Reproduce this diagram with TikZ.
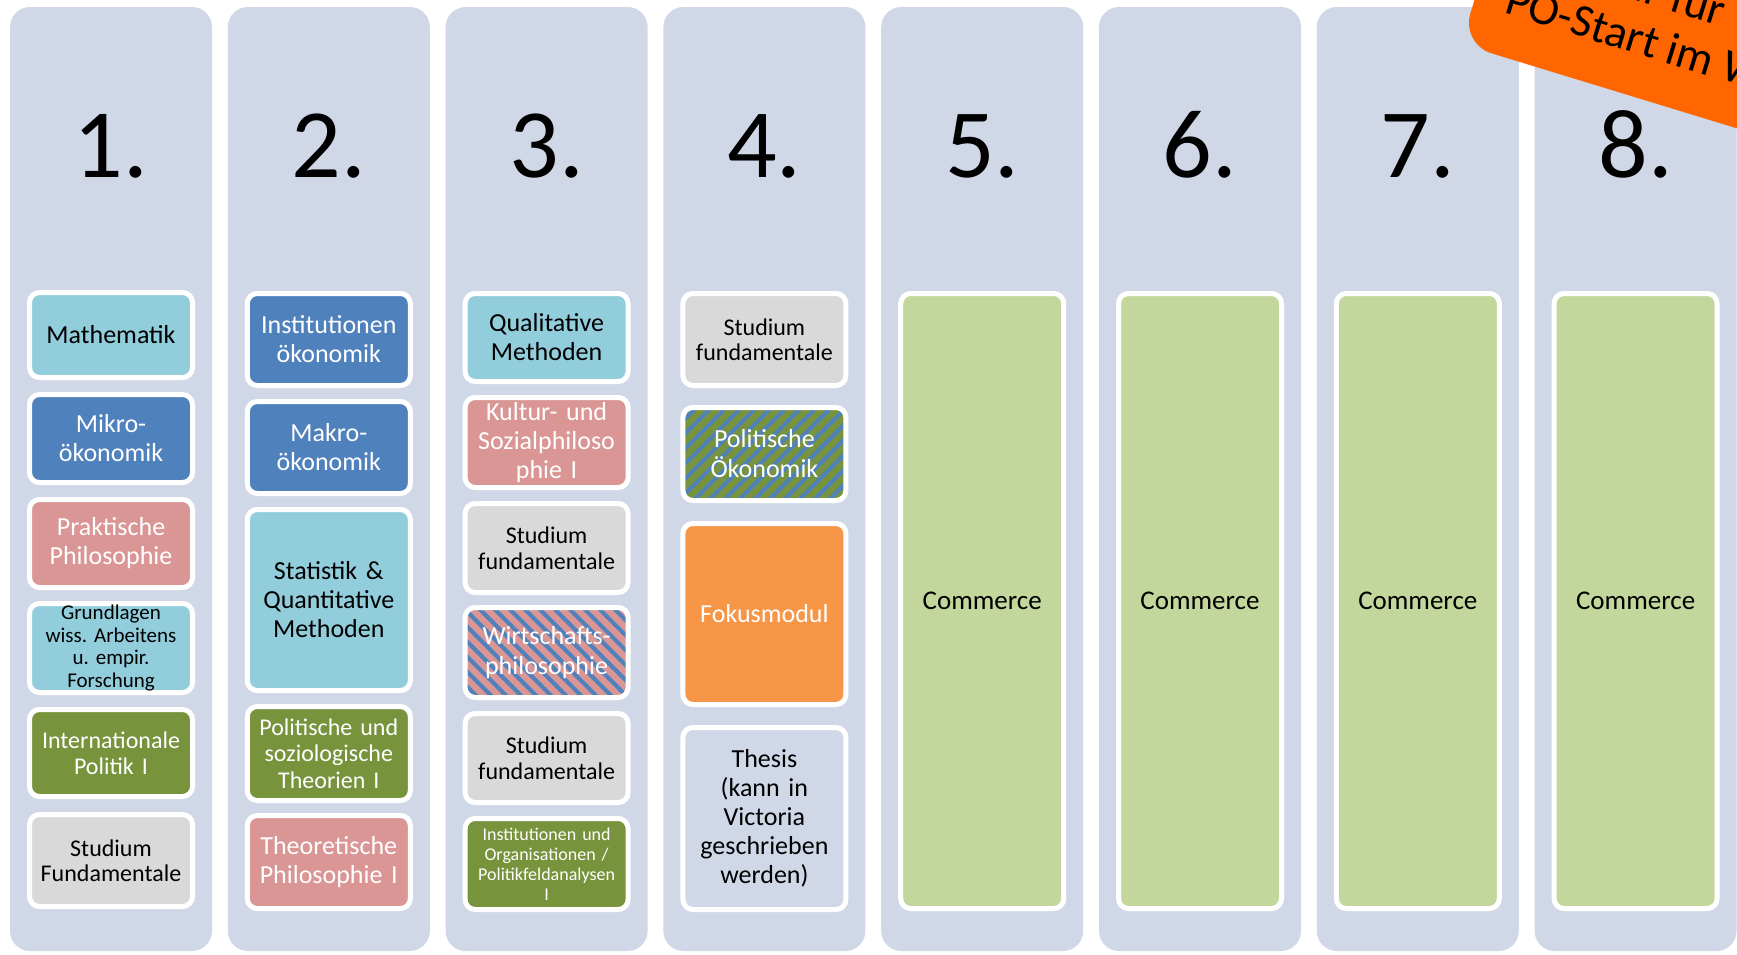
\documentclass[tikz,border=0pt]{standalone}
\usepackage{fontspec}
\setmainfont{Carlito}
\frenchspacing
\usetikzlibrary{positioning,patterns.meta}

\definecolor{spalte}{HTML}{D0D8E8}
\definecolor{hellblauc}{HTML}{92CDDC}
\definecolor{blauc}{HTML}{4F81BD}
\definecolor{rosac}{HTML}{D99694}
\definecolor{gruenc}{HTML}{77933C}
\definecolor{grauc}{HTML}{D9D9D9}
\definecolor{orangec}{HTML}{F79646}
\definecolor{commercec}{HTML}{C3D69B}
\definecolor{bannerc}{HTML}{FF6600}

\tikzset{
  semester/.style={fill=spalte, rounded corners=20pt, inner sep=0pt, minimum width=202pt, minimum height=944pt},
  nummer/.style={font=\fontsize{98}{98}\selectfont, anchor=base},
  modul/.style={draw=white, line width=5pt, rounded corners=10pt, minimum width=163pt, text width=155pt, align=center, inner xsep=2pt, inner ysep=0pt, font=\fontsize{26}{29}\selectfont},
  hellblau/.style={modul, fill=hellblauc, text=black},
  blau/.style={modul, fill=blauc, text=white},
  rosa/.style={modul, fill=rosac, text=white},
  gruen/.style={modul, fill=gruenc, text=white},
  grau/.style={modul, fill=grauc, text=black, font=\fontsize{24}{25.5}\selectfont},
  fokus/.style={modul, fill=orangec, text=white},
  commerce/.style={modul, fill=commercec, text=black, font=\fontsize{27}{30}\selectfont},
  streifen/.style={modul, text=white, preaction={fill=#1}, pattern color=blauc},
}

\begin{document}
\begin{tikzpicture}[x=1pt, y=-1pt]
  \clip (0,0) rectangle (1737,954);
  \fill[white] (0,0) rectangle (1737,954);

  % Semester-Spalten
  \foreach \i in {1,...,8} {
    \node[semester] (col\i) at ({111+217.8*(\i-1)}, 479) {};
    \node[nummer] (num\i) at (col\i |- 0,177) {\i.};
  }

  % 1. Semester
  \node[hellblau, minimum height=85pt] (mathe) at (col1 |- 0,335) {Mathematik};
  \node[blau, minimum height=88pt] (mikro) at (col1 |- 0,438.5) {Mikro-\\ökonomik};
  \node[rosa, minimum height=88pt] (praktphil) at (col1 |- 0,543.5) {Praktische\\Philosophie};
  \node[hellblau, minimum height=89pt, font=\fontsize{21}{22.5}\selectfont] (grundl) at (col1 |- 0,648) {Grundlagen\\wiss. Arbeitens\\u. empir.\\Forschung};
  \node[gruen, minimum height=87pt, font=\fontsize{24}{25.5}\selectfont] (intpol) at (col1 |- 0,753) {Internationale\\Politik I};
  \node[grau, minimum height=92pt] (studf1) at (col1 |- 0,860.5) {Studium\\Fundamentale};

  % 2. Semester
  \node[blau, minimum height=92pt] (instoek) at (col2 |- 0,339.5) {Institutionen\\ökonomik};
  \node[blau, minimum height=92pt] (makro) at (col2 |- 0,447.5) {Makro-\\ökonomik};
  \node[hellblau, minimum height=181pt] (stat) at (col2 |- 0,600) {Statistik \&\\Quantitative\\Methoden};
  \node[gruen, minimum height=94pt, font=\fontsize{24}{26.5}\selectfont] (polsoz) at (col2 |- 0,753.5) {Politische und\\soziologische\\Theorien I};
  \node[rosa, minimum height=93pt] (theophil) at (col2 |- 0,862) {Theoretische\\Philosophie I};

  % 3. Semester
  \node[hellblau, minimum height=88pt] (quali) at (col3 |- 0,337.5) {Qualitative\\Methoden};
  \node[rosa, minimum height=90pt] (kultur) at (col3 |- 0,442.5) {Kultur- und\\Sozialphiloso\\phie I};
  \node[grau, minimum height=89pt] (studf2) at (col3 |- 0,548) {Studium\\fundamentale};
  \node[streifen=rosac, pattern={Lines[angle=-45, distance=10.6pt, line width=4pt]}, minimum height=90pt, font=\fontsize{26}{30}\selectfont] (wirtphil) at (col3 |- 0,652.5) {Wirtschafts-\\philosophie};
  \node[grau, minimum height=89pt] (studf3) at (col3 |- 0,758) {Studium\\fundamentale};
  \node[gruen, minimum height=91pt, font=\fontsize{18}{20}\selectfont] (instorg) at (col3 |- 0,864) {Institutionen und\\Organisationen /\\Politikfeldanalysen\\I};

  % 4. Semester
  \node[grau, minimum height=92pt] (studf4) at (col4 |- 0,339.5) {Studium\\fundamentale};
  \node[streifen=gruenc, pattern={Lines[angle=45, distance=10.6pt, line width=4pt]}, minimum height=93pt, font=\fontsize{26}{30}\selectfont] (poloek) at (col4 |- 0,454) {Politische\\Ökonomik};
  \node[fokus, minimum height=181pt] (fokusmod) at (col4 |- 0,614) {Fokusmodul};
  \node[modul, minimum height=182pt] (thesis) at (col4 |- 0,818.5) {Thesis\\(kann in\\Victoria\\geschrieben\\werden)};

  % 5.--8. Semester
  \foreach \i in {5,...,8}
    \node[commerce, minimum height=615pt] (comm\i) at (col\i |- 0,601) {Commerce};

  % Hinweis-Banner
  \begin{scope}[shift={(1461,44)}, rotate=-17]
    \fill[bannerc, rounded corners=32pt] (0,0) rectangle (640,-170);
    \node[transform shape, anchor=base, font=\fontsize{46}{52}\selectfont] (hinweis1) at (175,-93) {Nur für};
    \node[transform shape, anchor=base, font=\fontsize{46}{52}\selectfont] (hinweis2) at (175,-42) {PO-Start im WS};
  \end{scope}
\end{tikzpicture}
\end{document}
